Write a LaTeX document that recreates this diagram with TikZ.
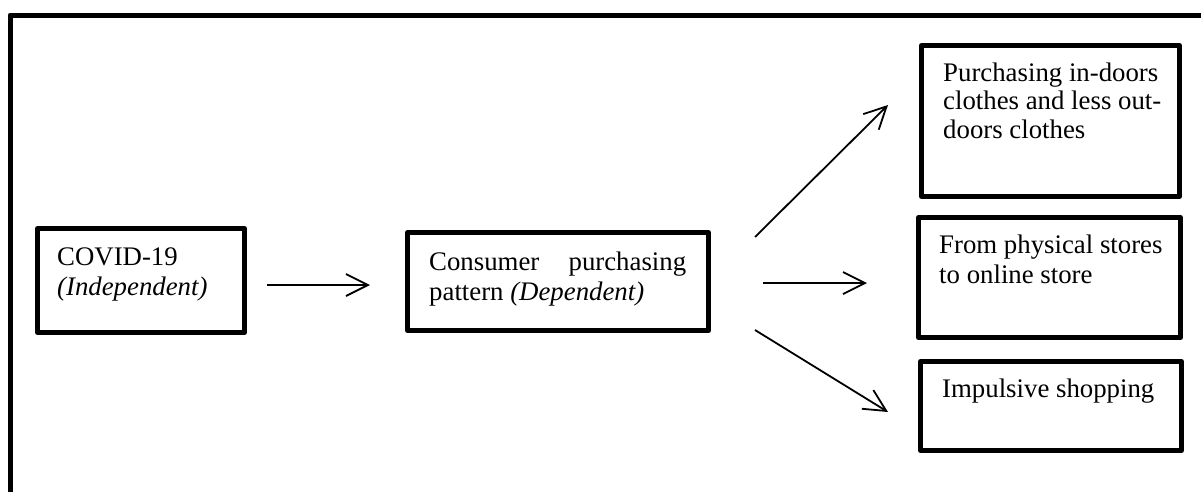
\documentclass[tikz,border=0pt]{standalone}
\usepackage{fontspec}
\setmainfont{Liberation Serif}
\usetikzlibrary{arrows.meta}
\tikzset{
  boxnode/.style={draw, line width=5pt, line join=round, inner sep=0pt},
  txt/.style={anchor=north west, inner sep=0pt, font=\fontsize{26.8}{30}\selectfont},
  conn/.style={line width=1.8pt, -{Straight Barb[length=22pt,width=22pt,line width=1.8pt]}}
}
\begin{document}
\begin{tikzpicture}[x=1pt,y=-1pt]
\useasboundingbox (0,0) rectangle (1201,491);
\fill[white] (0,0) rectangle (1201,491);
% outer frame (open to right and bottom)
\draw[line width=5pt, line join=round] (10,520) -- (10,15) -- (1230,15);

\node[boxnode, minimum width=207pt, minimum height=104pt] (covid) at (141,280.5) {};
\node[boxnode, minimum width=301pt, minimum height=98pt] (cons) at (558,281.5) {};
\node[boxnode, minimum width=258pt, minimum height=151pt] (b1) at (1050.5,121) {};
\node[boxnode, minimum width=262pt, minimum height=120pt] (b2) at (1049.5,277.5) {};
\node[boxnode, minimum width=261pt, minimum height=89pt] (b3) at (1051,406) {};

\node[txt, align=left] (tcovid) at (57,244) {\strut COVID-19\\\strut\textit{(Independent)}};
\node[txt, text width=257pt, align=justify] (tcons) at (429,249) {\strut Consumer purchasing pattern \textit{(Dependent)}};
\node[txt, align=left, font=\fontsize{26.8}{28.5}\selectfont] (tb1) at (943,61) {\strut Purchasing in-doors\\\strut clothes and less out-\\\strut doors clothes};
\node[txt, align=left] (tb2) at (939,232) {\strut From physical stores\\\strut to online store};
\node[txt, align=left] (tb3) at (942,376) {\strut Impulsive shopping};

\draw[conn] ([shift={(20,4.5)}]covid.east) -- ([shift={(-35,3.5)}]cons.west);
\draw[conn] ([shift={(52,1.5)}]cons.east) -- ([shift={(-49,5.5)}]b2.west);
\draw[conn] ([shift={(44,-44.5)}]cons.east) -- ([shift={(-31,-16)}]b1.west);
\draw[conn] ([shift={(44,48.5)}]cons.east) -- ([shift={(-30,6)}]b3.west);
\end{tikzpicture}
\end{document}
